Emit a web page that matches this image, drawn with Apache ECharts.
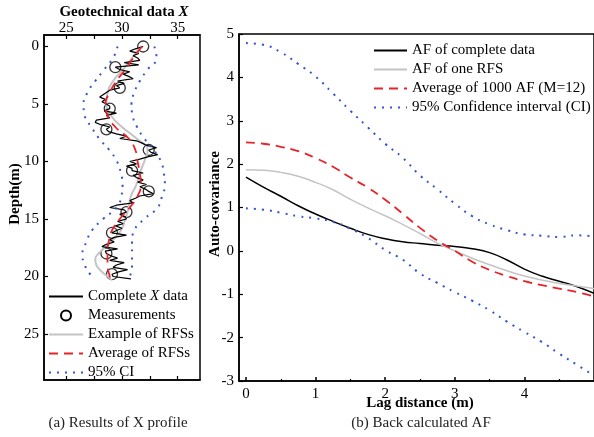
<!DOCTYPE html>
<html>
<head>
<meta charset="utf-8">
<script src="https://cdn.jsdelivr.net/npm/echarts@6/dist/echarts.min.js"></script>
<style>
html, body { margin: 0; padding: 0; background: #fff; }
#chart { width: 594px; height: 437px; }
</style>
</head>
<body>
<div id="chart"></div>
<script>
// (a) X profile - complete data
const completeDepth = [0, 0.2, 0.4, 0.6, 0.8, 1, 1.2, 1.4, 1.6, 1.8, 2, 2.2, 2.4, 2.6, 2.8, 3, 3.2, 3.4, 3.6, 3.8,
    4, 4.2, 4.4, 4.6, 4.8, 5, 5.2, 5.4, 5.6, 5.8, 6, 6.2, 6.4, 6.6, 6.8, 7, 7.2, 7.4, 7.6, 7.8,
    8, 8.2, 8.4, 8.6, 8.8, 9, 9.2, 9.4, 9.6, 9.8, 10, 10.2, 10.4, 10.6, 10.8, 11, 11.2, 11.4, 11.6, 11.8,
    12, 12.2, 12.4, 12.6, 12.8, 13, 13.2, 13.4, 13.6, 13.8, 14, 14.2, 14.4, 14.6, 14.8, 15, 15.2, 15.4, 15.6, 15.8,
    16, 16.2, 16.4, 16.6, 16.8, 17, 17.2, 17.4, 17.6, 17.8, 18, 18.2, 18.4, 18.6, 18.8, 19, 19.2, 19.4, 19.6, 19.8,
    20, 20.2];
const completeX = [31.9, 31.2, 30.7, 31.5, 31.0, 31.4, 31.6, 30.2, 31.5, 29.4, 29.8, 30.7, 30.1, 30.6, 31.0, 29.6, 30.2, 29.5, 29.8, 28.9,
    28.6, 28.3, 28.0, 28.5, 28.2, 28.6, 28.9, 28.9, 28.4, 29.5, 28.6, 28.9, 27.7, 27.6, 28.1, 28.9, 28.6, 28.8, 29.5, 30.4,
    29.8, 31.3, 31.8, 32.2, 33.1, 32.4, 32.6, 33.2, 32.3, 31.6, 30.7, 31.3, 30.4, 30.9, 30.9, 31.9, 31.0, 31.3, 31.9, 31.4,
    32.2, 31.6, 32.1, 32.4, 32.8, 31.6, 31.2, 30.7, 31.0, 29.5, 28.9, 30.2, 30.4, 29.8, 30.3, 30.4, 29.6, 30.1, 29.4, 30.0,
    29.5, 29.1, 30.4, 29.3, 28.9, 29.3, 28.6, 28.2, 29.6, 28.5, 28.6, 29.0, 29.6, 28.9, 30.2, 29.5, 29.2, 30.5, 29.7, 29.1,
    29.2, 30.8];
const measDepth = [0, 1.8, 3.6, 5.4, 7.2, 9.0, 10.8, 12.6, 14.4, 16.2, 18.0, 19.8];
const measX = [31.9, 29.4, 29.8, 28.9, 28.6, 32.4, 30.9, 32.4, 30.4, 29.1, 28.6, 29.1];
const rfsDepth = [0, 1, 2, 3, 4, 5, 6, 7, 8, 9, 10, 11, 12, 13, 14, 15, 16, 17, 18, 18.5, 19, 19.5, 20, 20.3];
const rfsX = [31.6, 30.9, 30.1, 29.2, 28.7, 28.6, 29.0, 30.0, 31.3, 32.3, 32.0, 31.6, 31.3, 30.8, 30.6, 30.3, 29.9, 29.0, 27.9, 27.6, 27.7, 28.1, 28.7, 29.1];
const avgDepth = [0, 1, 2, 3, 4, 5, 6, 7, 8, 9, 10, 11, 12, 13, 14, 15, 16, 17, 18, 19, 20, 20.4];
const avgX = [31.8, 31.0, 30.3, 29.5, 28.9, 28.5, 28.7, 29.4, 30.6, 31.2, 31.4, 31.6, 31.7, 31.4, 30.7, 29.8, 29.1, 28.8, 28.7, 28.7, 28.9, 29.0];
const ciDepth = [0, 1, 2, 3, 4, 5, 6, 7, 8, 9, 10, 11, 12, 13, 14, 15, 16, 17, 18, 19, 20];
const ciLowX = [29.6, 29.2, 28.4, 27.6, 26.9, 26.55, 26.65, 27.25, 27.95, 28.85, 29.55, 29.9, 30.05, 29.95, 29.5, 28.3, 27.3, 26.8, 26.45, 26.65, 27.3];
const ciHighX = [32.9, 33.1, 32.3, 31.6, 31.1, 30.85, 30.95, 31.35, 32.0, 32.85, 33.5, 33.75, 33.85, 33.6, 33.2, 32.0, 31.1, 30.9, 30.9, 30.9, 30.7];

// (b) auto-covariance
const lag = [0, 0.25, 0.5, 0.75, 1, 1.25, 1.5, 1.75, 2, 2.25, 2.5, 2.75, 3, 3.25, 3.5, 3.75, 4, 4.25, 4.5, 4.75, 5];
const afComplete = [1.70, 1.47, 1.26, 1.04, 0.85, 0.68, 0.52, 0.38, 0.28, 0.21, 0.17, 0.13, 0.10, 0.05, -0.04, -0.21, -0.42, -0.58, -0.70, -0.82, -0.98];
const afOneRfs = [1.87, 1.86, 1.81, 1.72, 1.58, 1.41, 1.19, 0.99, 0.81, 0.61, 0.40, 0.18, 0.0, -0.17, -0.32, -0.46, -0.58, -0.67, -0.75, -0.81, -0.87];
const afAverage = [2.50, 2.47, 2.40, 2.30, 2.14, 1.94, 1.69, 1.46, 1.18, 0.86, 0.53, 0.24, 0.0, -0.25, -0.44, -0.58, -0.70, -0.79, -0.87, -0.95, -1.05];
const afCiUpper = [4.79, 4.75, 4.58, 4.31, 4.02, 3.63, 3.23, 2.85, 2.47, 2.15, 1.74, 1.42, 1.09, 0.80, 0.61, 0.48, 0.38, 0.35, 0.32, 0.36, 0.33];
const afCiLower = [0.98, 0.95, 0.88, 0.80, 0.75, 0.67, 0.51, 0.30, 0.02, -0.20, -0.52, -0.74, -0.95, -1.15, -1.37, -1.63, -1.87, -2.10, -2.37, -2.62, -2.88];

// tick labels
const xTicksA = [25, 27.5, 30, 32.5, 35];
const xLabelsA = [25, 30, 35];
const depthLabels = [0, 5, 10, 15, 20, 25];
const lagLabels = [0, 1, 2, 3, 4];
const lagMinor = [0.5, 1.5, 2.5, 3.5, 4.5];

const FONT = 'Liberation Serif';
const BLUE = '#3556c8';
const RED = '#e8232a';
const GRAY = '#c4c4c4';

function pairs(xs, ys) {
    return xs.map((x, i) => [x, ys[i]]);
}

const labelStyle = { color: '#000', fontFamily: FONT, fontSize: 15 };
const axisLineStyle = { onZero: false, lineStyle: { color: '#000', width: 1.5 } };

// line series: symbol hidden in the legend icon too
function lineSeries(name, data, color, width, type, xi, yi, smooth) {
    return {
        name: name, type: 'line', xAxisIndex: xi, yAxisIndex: yi,
        data: data, smooth: smooth, symbol: 'none',
        lineStyle: { color: color, width: width, type: type },
        itemStyle: { color: color, opacity: 0 }
    };
}

const chart = echarts.init(document.getElementById('chart'));
const option = {
    animation: false,
    backgroundColor: '#fff',
    grid: [
        { left: 44, top: 35, width: 156, height: 345, show: true, borderColor: '#000', borderWidth: 1.5 },
        { left: 239, top: 34, width: 360, height: 347, show: true, borderColor: '#000', borderWidth: 1.5 }
    ],
    xAxis: [
        {
            gridIndex: 0, type: 'value', position: 'top', min: 23, max: 37,
            axisLine: axisLineStyle,
            axisTick: { inside: true, length: 4, customValues: xTicksA, lineStyle: { color: '#000', width: 1.2 } },
            axisLabel: Object.assign({ customValues: xLabelsA, margin: -1 }, labelStyle),
            splitLine: { show: false }
        },
        {
            gridIndex: 0, type: 'value', position: 'bottom', min: 23, max: 37,
            axisLine: axisLineStyle,
            axisTick: { inside: true, length: 4, customValues: xTicksA, lineStyle: { color: '#000', width: 1.2 } },
            axisLabel: { show: false },
            splitLine: { show: false }
        },
        {
            gridIndex: 1, type: 'value', position: 'bottom', min: -0.1, max: 5,
            axisLine: axisLineStyle,
            axisTick: { inside: true, length: 4, customValues: lagLabels, lineStyle: { color: '#000', width: 1.5 } },
            axisLabel: Object.assign({ customValues: lagLabels, margin: 6 }, labelStyle),
            splitLine: { show: false }
        },
        {
            gridIndex: 1, type: 'value', position: 'bottom', min: -0.1, max: 5,
            axisLine: { show: false, onZero: false },
            axisTick: { inside: true, length: 2, customValues: lagMinor, lineStyle: { color: '#000', width: 1.2 } },
            axisLabel: { show: false },
            splitLine: { show: false }
        }
    ],
    yAxis: [
        {
            gridIndex: 0, type: 'value', inverse: true, min: -1, max: 29,
            axisLine: axisLineStyle,
            axisTick: { inside: true, length: 4, customValues: depthLabels, lineStyle: { color: '#000', width: 1.2 } },
            axisLabel: Object.assign({ customValues: depthLabels, margin: 5 }, labelStyle),
            splitLine: { show: false }
        },
        {
            gridIndex: 1, type: 'value', min: -3, max: 5, interval: 1,
            axisLine: axisLineStyle,
            axisTick: { inside: true, length: 4, lineStyle: { color: '#000', width: 1.2 } },
            axisLabel: Object.assign({ margin: 5 }, labelStyle),
            splitLine: { show: false }
        }
    ],
    legend: [
        {
            orient: 'vertical', left: 48, top: 289, padding: 0,
            itemWidth: 34, itemHeight: 10, itemGap: 4,
            data: [
                'Complete X data',
                { name: 'Measurements', itemStyle: { opacity: 1 } },
                'Example of RFSs', 'Average of RFSs', '95% CI'
            ],
            formatter: function (name) {
                return name === 'Complete X data' ? 'Complete {i|X} data' : name;
            },
            textStyle: {
                color: '#000', fontFamily: FONT, fontSize: 15,
                rich: { i: { fontStyle: 'italic', fontFamily: FONT, fontSize: 15, color: '#000' } }
            }
        },
        {
            orient: 'vertical', left: 373, top: 43, padding: 0,
            itemWidth: 33, itemHeight: 10, itemGap: 4,
            data: ['AF of complete data', 'AF of one RFS', 'Average of 1000 AF (M=12)', '95% Confidence interval (CI)'],
            textStyle: { color: '#000', fontFamily: FONT, fontSize: 15 }
        }
    ],
    graphic: [
        {
            type: 'text', x: 124, y: 12,
            style: {
                text: 'Geotechnical data {i|X}', font: 'bold 15px "Liberation Serif"', fill: '#000',
                align: 'center', verticalAlign: 'middle', textAlign: 'center', textVerticalAlign: 'middle',
                rich: { i: { fontStyle: 'italic', fontWeight: 'bold', fontSize: 15, fontFamily: FONT } }
            }
        },
        {
            type: 'text', x: 15, y: 194, rotation: Math.PI / 2,
            style: {
                text: 'Depth(m)', font: 'bold 15px "Liberation Serif"', fill: '#000',
                align: 'center', verticalAlign: 'middle', textAlign: 'center', textVerticalAlign: 'middle'
            }
        },
        {
            type: 'text', x: 215, y: 204, rotation: Math.PI / 2,
            style: {
                text: 'Auto-covariance', font: 'bold 15px "Liberation Serif"', fill: '#000',
                align: 'center', verticalAlign: 'middle', textAlign: 'center', textVerticalAlign: 'middle'
            }
        },
        {
            type: 'text', x: 420, y: 403,
            style: {
                text: 'Lag distance (m)', font: 'bold 15px "Liberation Serif"', fill: '#000',
                align: 'center', verticalAlign: 'middle', textAlign: 'center', textVerticalAlign: 'middle'
            }
        },
        {
            type: 'text', x: 118, y: 423,
            style: {
                text: '(a) Results of X profile', font: '15px "Liberation Serif"', fill: '#222',
                align: 'center', verticalAlign: 'middle', textAlign: 'center', textVerticalAlign: 'middle'
            }
        },
        {
            type: 'text', x: 421, y: 423,
            style: {
                text: '(b) Back calculated AF', font: '15px "Liberation Serif"', fill: '#222',
                align: 'center', verticalAlign: 'middle', textAlign: 'center', textVerticalAlign: 'middle'
            }
        }
    ],
    series: [
        // (a)
        lineSeries('Example of RFSs', pairs(rfsX, rfsDepth), GRAY, 2, 'solid', 0, 0, true),
        lineSeries('Complete X data', pairs(completeX, completeDepth), '#000', 1.2, 'solid', 0, 0, false),
        lineSeries('Average of RFSs', pairs(avgX, avgDepth), RED, 1.8, [9, 6], 0, 0, true),
        lineSeries('95% CI', pairs(ciLowX, ciDepth), BLUE, 2, [2, 6], 0, 0, true),
        lineSeries('95% CI', pairs(ciHighX, ciDepth), BLUE, 2, [2, 6], 0, 0, true),
        {
            name: 'Measurements', type: 'scatter', xAxisIndex: 0, yAxisIndex: 0,
            data: pairs(measX, measDepth), symbol: 'circle', symbolSize: 11,
            itemStyle: { color: 'rgba(0,0,0,0)', borderColor: '#000', borderWidth: 1.3 }
        },
        // (b)
        lineSeries('AF of complete data', pairs(lag, afComplete), '#000', 1.5, 'solid', 2, 1, true),
        lineSeries('AF of one RFS', pairs(lag, afOneRfs), GRAY, 1.5, 'solid', 2, 1, true),
        lineSeries('Average of 1000 AF (M=12)', pairs(lag, afAverage), RED, 1.8, [9, 6], 2, 1, true),
        lineSeries('95% Confidence interval (CI)', pairs(lag, afCiUpper), BLUE, 2, [2, 6], 2, 1, true),
        lineSeries('95% Confidence interval (CI)', pairs(lag, afCiLower), BLUE, 2, [2, 6], 2, 1, true)
    ]
};
chart.setOption(option);
</script>
</body>
</html>
